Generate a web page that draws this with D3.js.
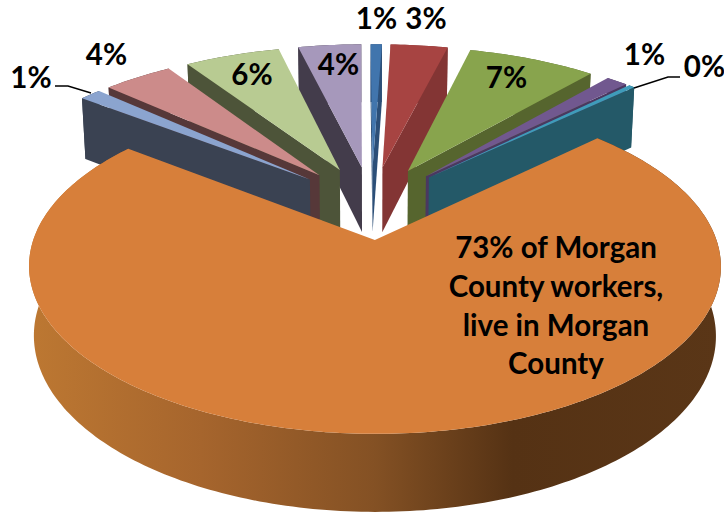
<!DOCTYPE html>
<html><head><meta charset="utf-8">
<script src="https://cdnjs.cloudflare.com/ajax/libs/d3/7.8.5/d3.min.js"></script>
<style>html,body{margin:0;padding:0;background:#fff}svg{display:block}text{font-family:Lato,"Open Sans",sans-serif;font-weight:700;fill:#000}</style>
</head><body><div id="chart"></div>
<script>
// Data, clockwise from just left of 12 o'clock
const categories = ["a","b","c","d","e","Morgan County","g","h","i","j"];
const shares     = [0.65,3.3,7.4,1.25,0.36,72.5,1.25,4.0,5.5,3.64];
const labels     = ["1%","3%","7%","1%","0%","","1%","4%","6%","4%"];
const topColors  = ["#4175ad","#a74442","#88a44d","#71588f","#3f9cba","#d77f3a","#8ba4cf","#cc8b8a","#b8cb92","#a698bb"];
const sideColors = ["#2c4f78","#833534","#56652e","#4a3860","#245968","#d77f3a","#3a4252","#563839","#4d5439","#433c4b"];
const orangeLines = ["73% of Morgan","County workers,","live in Morgan","County"];

// Layout
const W=724,H=512;
const apex=[370.5,240], B=341.6, A=163.3, K=0.158, M=0.014, N=69.5;
const explodeX=0.25, explodeY=0.24, centreX=0.003, centreY=-0.24;
const labelPos=[[376.5,29],[426,29],[506.5,88],[644.5,65],[704.5,77],null,[31,88],[106.5,65],[252,85],[338.5,75]];
const leaders=[[[55,86],[68,86],[91,93]],[[634,88],[668,77],[680,77]]];
const orangeBase=[258,297,336,374];

const svg=d3.select("#chart").append("svg").attr("width",W).attr("height",H);
const rad=d=>d*Math.PI/180;
const pie=d3.pie().sort(null).value(d=>d).startAngle(rad(-0.35)).endAngle(rad(359.65));
const arcs=pie(shares);
const line=d3.line();

// Perspective projection of plan coords (x right, y towards viewer)
const proj=(x,y,low)=>{
  const w=1-K*y+(low?M:0);
  return [apex[0]+B*x/w, apex[1]+(A*y+(low?N:0))/w];
};

const grad=svg.append("defs").append("linearGradient").attr("id","wall")
  .attr("gradientUnits","userSpaceOnUse").attr("x1",28).attr("x2",720).attr("y1",0).attr("y2",0);
[[0,"#bd7832"],[0.25,"#a6652d"],[0.5,"#845124"],[0.7,"#553214"],[1,"#5a3617"]]
  .forEach(s=>grad.append("stop").attr("offset",s[0]).attr("stop-color",s[1]));

const order=arcs.map((a,i)=>{
  const mid=(a.startAngle+a.endAngle)/2;
  return {i,a,mid,dist:Math.abs(Math.atan2(Math.sin(mid),Math.cos(mid)))};
}).sort((p,q)=>p.dist-q.dist);

const cross=(o,p,q)=>(p[0]-o[0])*(q[1]-o[1])-(p[1]-o[1])*(q[0]-o[0]);

order.forEach(({i,a,mid})=>{
  const cx=(i===5?0:centreX)+explodeX*Math.sin(mid), cy=centreY-explodeY*Math.cos(mid);
  const pt=(t,r,low)=>proj(cx+r*Math.sin(t),cy-r*Math.cos(t),low);
  const n=Math.max(2,Math.ceil((a.endAngle-a.startAngle)/rad(1)));
  const ts=d3.range(n+1).map(k=>a.startAngle+(a.endAngle-a.startAngle)*k/n);
  const g=svg.append("g");
  const fill=i===5?"url(#wall)":sideColors[i];
  // outer wall
  g.append("path").attr("d",line(ts.map(t=>pt(t,1,false)).concat(ts.slice().reverse().map(t=>pt(t,1,true))))+"Z").attr("fill",fill);
  // radial faces that turn towards the viewer
  const inner=pt(mid,0.5,false);
  [a.startAngle,a.endAngle].forEach(t=>{
    const o=pt(0,0,false), e=pt(t,1,false), d=pt(0,0,true);
    if(cross(o,e,d)*cross(o,e,inner)<0){
      g.append("path").attr("d",line([o,e,pt(t,1,true),d])+"Z").attr("fill",fill);
    }
  });
  // top surface
  g.append("path").attr("d",line([pt(0,0,false)].concat(ts.map(t=>pt(t,1,false))))+"Z").attr("fill",topColors[i]);
});

leaders.forEach(l=>svg.append("path").attr("d",line(l)).attr("fill","none").attr("stroke","#000").attr("stroke-width",1.4));

labels.forEach((t,i)=>{
  if(!t) return;
  svg.append("text").attr("x",labelPos[i][0]).attr("y",labelPos[i][1]).attr("text-anchor","middle").attr("font-size",29.5).text(t);
});
orangeLines.forEach((t,i)=>svg.append("text").attr("x",556).attr("y",orangeBase[i]).attr("text-anchor","middle").attr("font-size",29.5).text(t));
</script></body></html>
